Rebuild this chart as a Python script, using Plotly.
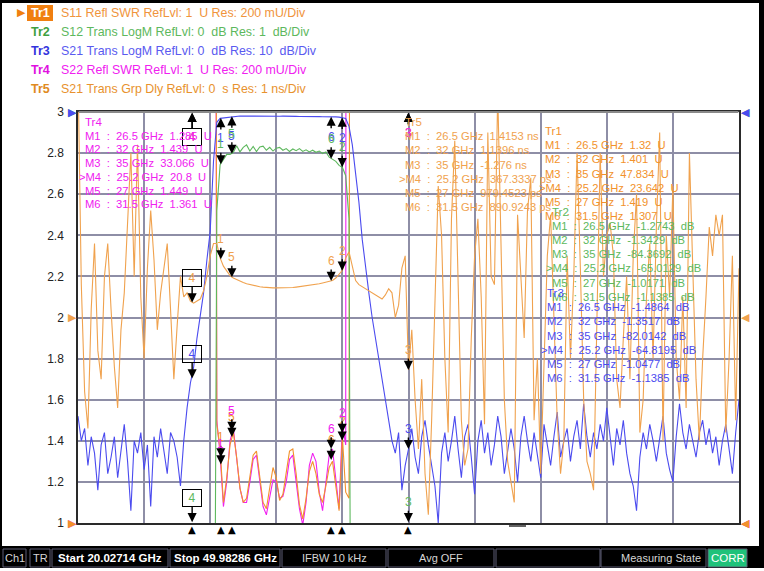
import numpy as np
import plotly.graph_objects as go

## Sweep
START_GHZ = 20.02714
STOP_GHZ = 49.98286
N_POINTS = 201
freq_ghz = np.linspace(START_GHZ, STOP_GHZ, N_POINTS)

## Trace data (native units, one value per sweep point)
# Tr1: S11 SWR (U)
tr1_swr = [
    38.2, 41.5, 44.0, 39.7, 35.1, 42.3, 46.8, 40.2, 37.5, 43.9,
    45.1, 41.0, 36.4, 39.8, 44.6, 47.2, 42.7, 38.9, 35.6, 40.4,
    43.3, 46.1, 41.8, 37.2, 34.5, 39.1, 42.8, 36.7, 31.9, 28.4,
    33.0, 30.2, 27.5, 25.1, 23.9, 23.4, 22.8, 21.5, 20.6, 19.4,
    18.0, 12.0,
    1.48, 1.36, 1.10, 1.22, 1.38, 1.44, 1.32, 1.17, 1.10, 1.12,
    1.22, 1.33, 1.35, 1.22, 1.10, 1.07, 1.17, 1.27, 1.22, 1.11,
    1.14, 1.25, 1.35, 1.36, 1.24, 1.09, 1.02, 1.12, 1.25, 1.30,
    1.24, 1.14, 1.10, 1.18, 1.27, 1.30, 1.17, 1.06, 1.42, 1.15,
    1.12,
    15.0, 24.1, 31.5, 38.7, 42.2, 45.0, 46.3, 47.1, 47.6, 47.9,
    48.1, 47.7, 48.3, 47.5, 48.0, 47.2, 47.8, 47.83, 46.9, 47.4,
    46.1, 45.3, 47.0, 44.8, 43.9, 45.6, 46.2, 44.1, 42.7, 43.8,
    45.0, 41.9, 40.6, 42.4, 44.3, 43.1, 41.2, 39.8, 40.9, 42.6,
    41.4, 39.0, 38.2, 40.1, 41.7, 39.5, 37.8, 36.9, 38.4, 40.0,
    38.8, 36.5, 35.7, 37.2, 39.1, 37.6, 35.3, 34.4, 36.0, 37.9,
    36.2, 34.1, 33.5, 35.4, 36.8, 34.9, 32.7, 33.9, 35.6, 34.0,
    32.4, 31.8, 33.6, 35.0, 33.2, 31.5, 30.9, 32.8, 34.3, 32.6,
    30.8, 30.1, 31.9, 33.4, 31.7, 29.9, 29.3, 31.2, 32.7, 30.9,
    29.2, 28.6, 30.4, 31.8, 30.0, 28.4, 27.9, 29.7, 31.1, 29.5,
    27.8, 27.2, 29.0, 30.5, 28.8, 27.1, 26.6, 28.3, 29.8, 28.1,
    26.5, 26.0, 27.7, 29.1, 27.4, 25.9, 25.4, 27.0,
]

# Tr2: S12 LogM (dB)
tr2_db = [
    -78, -84, -80, -88, -82, -79, -91, -85, -81, -87,
    -83, -80, -90, -84, -78, -86, -95, -82, -85, -80,
    -88, -83, -94, -81, -85, -79, -83, -87, -80, -82,
    -84, -88, -81, -74, -67, -63, -57, -51, -45, -38,
    -30, -20, -2.4,
    -1.28, -1.15, -1.03, -1.03, -0.98, -0.82, -0.97, -0.86,
    -0.80, -0.95, -0.84, -0.96, -0.85, -0.83, -0.93, -0.86, -0.95, -0.88,
    -0.86, -0.93, -0.89, -0.96, -0.90, -0.94, -0.89, -0.96, -0.92, -0.97,
    -0.93, -0.98, -0.95, -1.01, -0.97, -1.10, -1.16, -1.20, -1.30, -1.35,
    -1.55, -2.6, -25, -45, -60, -70, -76, -80, -83, -79,
    -85, -82, -88, -80, -84, -87, -81, -86, -83, -84.37,
    -80, -86, -90, -83, -79, -85, -92, -100, -84, -80,
    -87, -81, -77, -84, -90, -82, -78, -86, -94, -81,
    -77, -85, -80, -88, -83, -76, -81, -89, -84, -79,
    -84, -91, -80, -76, -82, -87, -79, -84, -90, -78,
    -83, -88, -81, -75, -86, -82, -79, -87, -81, -77,
    -84, -73, -81, -86, -80, -84, -78, -82, -74, -81,
    -88, -79, -83, -77, -85, -90, -93, -98, -86, -80,
    -84, -78, -82, -87, -81, -76, -85, -89, -92, -81,
    -73, -80, -84, -78, -82, -86, -80, -77, -83, -79,
    -85, -81, -88, -82, -78, -84, -90, -80, -72, -79,
]

# Tr3: S21 LogM (dB)
tr3_db = [
    -74, -80, -77, -86, -79, -83, -92, -81, -78, -88,
    -84, -79, -89, -82, -76, -85, -97, -80, -83, -78,
    -87, -81, -96, -79, -84, -77, -82, -88, -78, -80,
    -84, -91, -80, -72, -66, -62, -55, -50, -44, -36,
    -29, -12, -2.5,
    -1.55, -1.45, -1.30, -1.15, -1.05, -1.00, -0.98, -1.00, -1.02, -0.97,
    -0.95, -0.98, -1.00, -1.03, -0.99, -1.00, -1.02, -1.05, -1.04, -1.00,
    -1.06, -1.08, -1.05, -1.07, -1.10, -1.08, -1.06, -1.10, -1.12, -1.10,
    -1.12, -1.15, -1.13, -1.12, -1.14, -1.18, -1.25, -1.35, -1.60,
    -3.5, -8, -15, -22, -31, -38, -44, -50, -55, -60,
    -66, -71, -76, -80,
    -83, -78, -92, -86, -82,
    -77, -84, -88, -79, -75, -81, -86, -91, -100, -83,
    -78, -85, -80, -74, -82, -89, -79, -76, -84, -93,
    -80, -75, -83, -78, -86, -81, -74, -79, -88, -83,
    -77, -82, -90, -79, -74, -80, -85, -78, -83, -89,
    -76, -81, -86, -79, -73, -84, -80, -77, -85, -79,
    -75, -82, -71, -79, -84, -78, -82, -76, -80, -72,
    -79, -86, -77, -81, -75, -83, -88, -91, -97, -84,
    -78, -82, -76, -80, -85, -79, -74, -83, -87, -90,
    -79, -71, -78, -82, -76, -80, -84, -78, -75, -81,
    -77, -83, -79, -86, -80, -76, -82, -88, -78, -70,
]

# Tr4: S22 SWR (U)
tr4_swr = [
    30.5, 33.2, 35.8, 32.1, 28.7, 34.0, 37.5, 32.9, 30.1, 35.2,
    36.3, 33.0, 29.4, 32.0, 35.9, 38.1, 34.4, 31.3, 28.6, 32.5,
    34.9, 37.2, 33.7, 30.0, 27.8, 31.5, 34.5, 29.6, 25.8, 23.0,
    26.7, 24.5, 22.3, 21.6, 21.0, 20.6, 19.9, 18.7, 17.4, 16.2,
    14.5, 9.0,
    1.50, 1.33, 1.08, 1.20, 1.40, 1.46, 1.33, 1.17, 1.10, 1.10,
    1.20, 1.31, 1.33, 1.20, 1.08, 1.04, 1.12, 1.21, 1.20, 1.12,
    1.13, 1.20, 1.31, 1.33, 1.20, 1.07, 0.99, 1.10, 1.28, 1.34,
    1.30, 1.15, 1.06, 1.20, 1.33, 1.36, 1.20, 1.07, 1.48, 1.38,
    30.0, 31.5, 32.2, 32.8, 33.1, 32.9, 33.4, 33.0, 32.7, 33.2,
    33.5, 32.8, 33.3, 32.6, 33.0, 33.4, 32.9, 33.1, 33.07, 32.5,
    31.8, 32.4, 31.2, 30.6, 31.5, 30.0, 29.4, 30.3, 29.1, 28.5,
    29.2, 28.0, 27.4, 28.3, 27.1, 26.5, 27.3, 26.2, 25.6, 26.4,
    25.3, 24.7, 25.5, 24.4, 23.8, 24.6, 23.5, 22.9, 23.7, 22.6,
    22.0, 22.8, 21.7, 21.1, 21.9, 20.8, 20.2, 21.0, 19.9, 19.3,
    20.1, 19.0, 18.4, 19.2, 18.1, 17.5, 18.3, 17.2, 16.6, 17.4,
    16.3, 15.7, 16.5, 15.4, 14.8, 15.6, 14.5, 13.9, 14.7, 13.6,
    13.0, 13.8, 12.7, 12.1, 12.9, 11.8, 11.2, 12.0, 10.9, 10.3,
    11.1, 10.0, 9.4, 10.2, 9.1, 8.5, 9.3, 8.2, 7.6, 8.4,
    7.3, 6.7, 7.5, 6.4, 5.8, 6.6, 5.5, 4.9, 5.7, 4.6,
    4.0, 4.8, 3.7, 4.3, 5.0, 4.1, 3.6, 4.4, 3.9,
]

# Tr5: S21 group delay (ns)
tr5_ns = [
    6.0, 0.8, -1.8, -2.7, 0.2, 1.8, -0.8, -1.5, 1.0, 1.8,
    0.2, -1.2, -2.2, -0.3, 0.6, 2.5, 4.0, 1.0, 4.2, 0.5,
    -1.0, 1.2, 2.6, 1.4, -0.3, 0.6, 1.2, 1.8, 0.2, -1.5,
    -0.2, 1.0, 0.5, 0.6, 0.4, 0.35, 0.4, 0.45, 0.65, 1.0,
    1.5, 1.8,
    1.8, 1.45, 1.25, 1.12, 1.02, 0.96, 0.92, 0.88, 0.85, 0.82,
    0.80, 0.78, 0.76, 0.75, 0.74, 0.73, 0.72, 0.72, 0.72, 0.72,
    0.72, 0.72, 0.73, 0.73, 0.74, 0.75, 0.76, 0.77, 0.78, 0.79,
    0.80, 0.82, 0.84, 0.86, 0.88, 0.90, 0.96, 1.07, 1.15, 1.45,
    1.6,
    1.25, 0.9, 0.8, 0.75, 0.7, 0.65, 0.6, 0.55, 0.5, 0.45,
    0.55, 0.7, 0.6, 0.0, 0.3, 1.2, 1.5, -1.276,
    -0.3, -2.0, -3.2, -1.5, -3.8, -4.8, -2.5, 0.5, 3.2, 2.0,
    -1.0, -2.8, 2.4, 4.3, 1.0, -2.5, -3.6, -3.2, -0.5, 1.5,
    2.4, 0.5, -2.6, 4.5, 1.0, 0.8, 5.5, 1.5, -2.0, -3.5,
    -4.0, -4.5, 2.5, 1.0, -0.5, 2.6, 3.4, -2.5, -1.0, -3.8,
    -1.0, 1.5, 2.5, 0.0, -2.5, -3.8, -3.0, 1.5, -1.0, 1.0,
    4.0, 1.2, -2.0, -3.5, -3.8, -4.2, 0.0, 4.0, 1.0, 2.0,
    2.3, 1.5, -1.5, -2.2, -0.5, 1.0, -1.5, 1.5, 3.0, -2.8,
    -2.0, 0.5, 1.8, -1.0, 2.2, 4.5, -3.0, 2.0, 0.5, 3.2,
    -1.0, -2.0, 0.5, -2.2, 4.0, 1.0, -1.5, -3.0, -1.0, 0.5,
    2.2, 1.5, 2.5, 2.0, 2.5, -2.8, -1.0, 1.5, -2.5, 1.2,
]

## Marker readouts
marker_freqs = [26.5, 32, 35, 25.2, 27, 31.5]
active_marker = 3  # M4
tr1_mk = [1.32, 1.401, 47.834, 23.642, 1.419, 1.307]
tr2_mk = [-1.2743, -1.3429, -84.3692, -65.0129, -1.0171, -1.1385]
tr3_mk = [-1.4864, -1.3517, -82.0142, -64.8195, -1.0477, -1.1385]
tr4_mk = [1.285, 1.439, 33.066, 20.8, 1.449, 1.361]
tr5_mk_ns = [1.4153, 1.1396, -1.276, 0.3673337, 0.9794523, 0.8909243]

header_desc = [
    "S11 Refl SWR RefLvl: 1  U Res: 200 mU/Div",
    "S12 Trans LogM RefLvl: 0  dB Res: 1  dB/Div",
    "S21 Trans LogM RefLvl: 0  dB Res: 10  dB/Div",
    "S22 Refl SWR RefLvl: 1  U Res: 200 mU/Div",
    "S21 Trans Grp Dly RefLvl: 0  s Res: 1 ns/Div",
]

TR1_COLOR = "#F2922C"
TR2_COLOR = "#5DB85D"
TR3_COLOR = "#4B4BEF"
TR4_COLOR = "#F020F0"
TR5_COLOR = "#F0A24E"
GRID = "#8E8EA6"
FONT = "Liberation Sans, Arial, sans-serif"

# plot area in pixels
PLOT_L, PLOT_R, PLOT_T, PLOT_B = 78, 739, 112, 523
PLOT_W = PLOT_R - PLOT_L
PLOT_H = PLOT_B - PLOT_T


def px_x(x):
    return (x - PLOT_L) / PLOT_W


def px_y(y):
    return (PLOT_B - y) / PLOT_H


def nb(s):
    return s.replace(" ", "\u00a0")


def fmt_num(v):
    return f"{v:.4f}".rstrip("0").rstrip(".")


def fmt_u(v):
    return fmt_num(v) + "  U"


def fmt_db(v):
    return fmt_num(v) + "  dB"


def fmt_delay(v_ns):
    if abs(v_ns) >= 1:
        return fmt_num(v_ns) + " ns"
    return fmt_num(v_ns * 1000) + " ps"


traces = {
    "Tr1": dict(values=tr1_swr, mk=tr1_mk, yref="y", rng=(1, 3), color=TR1_COLOR, fmt=fmt_u,
                table=(543, 131, 14.2)),
    "Tr2": dict(values=tr2_db, mk=tr2_mk, yref="y2", rng=(-10, 0), color=TR2_COLOR, fmt=fmt_db,
                table=(550, 212, 14.1)),
    "Tr3": dict(values=tr3_db, mk=tr3_mk, yref="y3", rng=(-100, 0), color=TR3_COLOR, fmt=fmt_db,
                table=(545, 293, 14.2)),
    "Tr4": dict(values=tr4_swr, mk=tr4_mk, yref="y", rng=(1, 3), color=TR4_COLOR, fmt=fmt_u,
                table=(83, 122, 13.7)),
    "Tr5": dict(values=tr5_ns, mk=tr5_mk_ns, yref="y4", rng=(-5, 5), color=TR5_COLOR, fmt=fmt_delay,
                table=(403, 122, 14.2)),
}

fig = go.Figure()

for name in ["Tr3", "Tr2", "Tr5", "Tr4", "Tr1"]:
    t = traces[name]
    vals = t["values"]
    fig.add_trace(go.Scatter(
        x=freq_ghz[:len(vals)], y=vals, mode="lines", name=name,
        yaxis=t["yref"], line=dict(color=t["color"], width=1.1),
        hoverinfo="skip",
    ))

annotations = []
shapes = []

## Markers on the traces
for name in ["Tr5", "Tr3", "Tr2", "Tr1", "Tr4"]:
    t = traces[name]
    lo, hi = t["rng"]
    for k, (f, v) in enumerate(zip(marker_freqs, t["mk"])):
        pad = 0.002 * (hi - lo)
        yv = min(max(v, lo + pad), hi - pad)
        frac = (v - lo) / (hi - lo)
        boxed = k == active_marker
        up = v > hi or frac > 0.93
        dist = 24 if boxed else 20
        ann = dict(
            x=f, y=yv, xref="x", yref=t["yref"], text=str(k + 1),
            showarrow=True, arrowhead=2, arrowsize=1.3, arrowwidth=1.4, arrowcolor="black",
            ax=0, ay=dist if up else -dist, standoff=0,
            font=dict(color=t["color"], size=12, family=FONT),
        )
        if boxed:
            ann.update(bordercolor="black", borderwidth=1, borderpad=1, width=16)
        annotations.append(ann)

# marker ticks below the x axis
for f in marker_freqs:
    annotations.append(dict(x=f, y=0, xref="x", yref="paper", yanchor="top", text="\u25B2",
                            showarrow=False, yshift=1, font=dict(size=10, color="black", family="DejaVu Sans")))

# reference level indicators on both sides
for name, ref in [("Tr2", 0), ("Tr4", 1), ("Tr3", 0), ("Tr1", 1), ("Tr5", 0)]:
    t = traces[name]
    annotations.append(dict(x=START_GHZ, y=ref, xref="x", yref=t["yref"], xanchor="right", text="\u25B6",
                            showarrow=False, xshift=1, font=dict(size=11, color=t["color"], family="DejaVu Sans")))
    annotations.append(dict(x=STOP_GHZ, y=ref, xref="x", yref=t["yref"], xanchor="left", text="\u25C0",
                            showarrow=False, xshift=0, font=dict(size=11, color=t["color"], family="DejaVu Sans")))

## Marker tables
for name in ["Tr4", "Tr5", "Tr1", "Tr2", "Tr3"]:
    t = traces[name]
    x0, y0, step = t["table"]
    annotations.append(dict(x=px_x(x0), y=px_y(y0), xref="paper", yref="paper", xanchor="left",
                            yanchor="middle", text=name, showarrow=False,
                            font=dict(size=11.5, color=t["color"], family=FONT)))
    for k, (f, v) in enumerate(zip(marker_freqs, t["mk"])):
        label = f"M{k + 1}  :  {f:g} GHz  {t['fmt'](v)}"
        xs = 0
        if k == active_marker:
            label = ">" + label
            xs = -6
        annotations.append(dict(x=px_x(x0), y=px_y(y0 + step * (k + 1)), xref="paper", yref="paper",
                                xanchor="left", yanchor="middle", xshift=xs, text=nb(label), showarrow=False,
                                font=dict(size=11.2, color=t["color"], family=FONT)))

## Header with trace descriptions
tr_label_colors = ["white", "#3FA03F", "#3333DD", "#E010E0", "#E08A20"]
desc_colors = ["#F0943C", TR2_COLOR, "#5A5AF0", TR4_COLOR, "#E8922E"]
for i, name in enumerate(["Tr1", "Tr2", "Tr3", "Tr4", "Tr5"]):
    yc = 13 + 19 * i
    annotations.append(dict(x=px_x(29), y=px_y(yc), xref="paper", yref="paper", xanchor="left",
                            yanchor="middle", text="<b>" + name + "</b>", showarrow=False,
                            font=dict(size=12.5, color=tr_label_colors[i], family=FONT)))
    annotations.append(dict(x=px_x(59), y=px_y(yc), xref="paper", yref="paper", xanchor="left",
                            yanchor="middle", text=nb(header_desc[i]), showarrow=False,
                            font=dict(size=12.4, color=desc_colors[i], family=FONT)))
annotations.append(dict(x=px_x(15), y=px_y(12), xref="paper", yref="paper", xanchor="left",
                        yanchor="middle", text="\u25B6", showarrow=False,
                        font=dict(size=11, color="#F07F10", family="DejaVu Sans")))
shapes.append(dict(type="rect", xref="paper", yref="paper", x0=px_x(27), x1=px_x(53),
                   y0=px_y(21), y1=px_y(5), fillcolor="#F07F10", line=dict(width=0), layer="below"))

## Frame of the screen
shapes += [
    dict(type="rect", xref="paper", yref="paper", x0=px_x(0), x1=px_x(764), y0=px_y(3), y1=px_y(0),
         fillcolor="black", line=dict(width=0)),
    dict(type="rect", xref="paper", yref="paper", x0=px_x(759), x1=px_x(764), y0=px_y(547), y1=px_y(0),
         fillcolor="black", line=dict(width=0)),
    dict(type="rect", xref="paper", yref="paper", x0=px_x(0), x1=px_x(2), y0=px_y(547), y1=px_y(0),
         fillcolor="black", line=dict(width=0)),
    dict(type="line", xref="paper", yref="paper", x0=px_x(509), x1=px_x(526), y0=px_y(526), y1=px_y(526),
         line=dict(color="#303030", width=1.5)),
    # top edge of the diagram is grey on the instrument
    dict(type="line", xref="paper", yref="paper", x0=0.001, x1=0.999, y0=1, y1=1,
         line=dict(color="#8A8A8A", width=2)),
]

## Status bar
shapes.append(dict(type="rect", xref="paper", yref="paper", x0=px_x(0), x1=px_x(764),
                   y0=px_y(568), y1=px_y(546), fillcolor="black", line=dict(width=0)))
status_boxes = [
    (3, 26, "Ch1", "center", False),
    (30, 50, "TR", "center", False),
    (52, 168, "Start 20.02714 GHz", "center", True),
    (170, 280, "Stop 49.98286 GHz", "center", True),
    (282, 386, "IFBW 10 kHz", "center", False),
    (388, 494, "Avg OFF", "center", False),
    (496, 600, "", "center", False),
    (601, 706, "Measuring State", "right", False),
]
for x0, x1, txt, align, bold in status_boxes:
    shapes.append(dict(type="rect", xref="paper", yref="paper", x0=px_x(x0), x1=px_x(x1),
                       y0=px_y(567), y1=px_y(549), fillcolor="black", line=dict(color="#5C5C74", width=1)))
    if txt:
        xa = px_x((x0 + x1) / 2) if align == "center" else px_x(x1 - 3)
        annotations.append(dict(x=xa, y=px_y(558), xref="paper", yref="paper", xanchor=align,
                                yanchor="middle", showarrow=False,
                                text=("<b>" + txt + "</b>") if bold else txt,
                                font=dict(size=11.5 if bold else 11, color="white" if bold else "#D6D6D6",
                                          family=FONT)))
shapes.append(dict(type="rect", xref="paper", yref="paper", x0=px_x(708), x1=px_x(747),
                   y0=px_y(567), y1=px_y(549), fillcolor="#1FC27A", line=dict(color="#5C5C74", width=1)))
annotations.append(dict(x=px_x(727.5), y=px_y(558), xref="paper", yref="paper", xanchor="center",
                        yanchor="middle", showarrow=False, text="CORR",
                        font=dict(size=11.5, color="white", family=FONT)))

hidden = dict(overlaying="y", visible=False, showgrid=False, zeroline=False)
fig.update_layout(
    width=764, height=571,
    margin=dict(l=PLOT_L, r=764 - PLOT_R, t=PLOT_T, b=571 - PLOT_B),
    paper_bgcolor="white", plot_bgcolor="white",
    showlegend=False,
    font=dict(family=FONT, size=12, color="#222"),
    xaxis=dict(range=[START_GHZ, STOP_GHZ], tick0=START_GHZ, dtick=(STOP_GHZ - START_GHZ) / 10,
               showticklabels=False, showgrid=True, gridcolor=GRID, gridwidth=1.5,
               showline=True, linecolor="#2A2A2A", linewidth=1.5, mirror=True, zeroline=False, ticks=""),
    yaxis=dict(range=[1, 3], tick0=1, dtick=0.2, showgrid=True, gridcolor=GRID, gridwidth=1.5,
               showline=True, linecolor="#2A2A2A", linewidth=1.5, mirror=True, zeroline=False, ticks="",
               ticklabelstandoff=10, tickfont=dict(size=12, color="#222")),
    yaxis2=dict(range=[-10, 0], **hidden),
    yaxis3=dict(range=[-100, 0], **hidden),
    yaxis4=dict(range=[-5, 5], **hidden),
    annotations=annotations,
    shapes=shapes,
)

# page without the browser's default body margin and without the mode bar
fig.write_html("out.html", config={"displayModeBar": False},
               post_script="document.body.style.margin='0px';")
